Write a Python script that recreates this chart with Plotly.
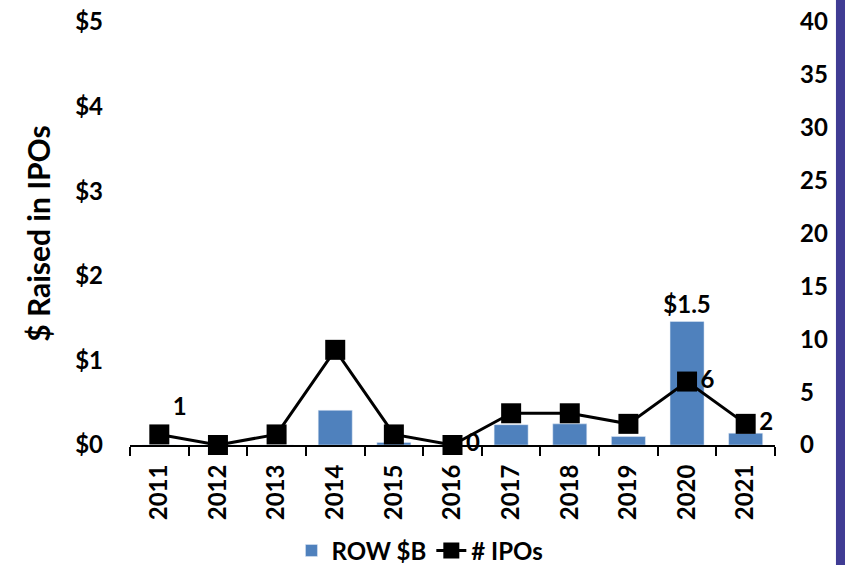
import plotly.graph_objects as go

years = ["2011", "2012", "2013", "2014", "2015", "2016", "2017", "2018", "2019", "2020", "2021"]
row_raised = [0.0, 0.0, 0.0, 0.41, 0.03, 0.0, 0.24, 0.25, 0.10, 1.46, 0.14]
num_ipos = [1, 0, 1, 9, 1, 0, 3, 3, 2, 6, 2]

bar_text = ["", "", "", "", "", "", "", "", "", "$1.5", ""]
ipo_text = ["1", "", "", "", "", "0", "", "", "", "6", "2"]
ipo_pos = ["top right", "middle right", "middle right", "middle right", "middle right",
           "middle right", "middle right", "middle right", "middle right", "middle right", "middle right"]

FONT = "Lato"
bold = dict(family=FONT, size=24, color="black", weight="bold")

fig = go.Figure()
fig.add_trace(go.Bar(
    x=years, y=row_raised, name="ROW $B",
    marker_color="#4F81BD", width=0.58,
    text=bar_text, textposition="outside", cliponaxis=False, constraintext="none",
    textfont=bold,
))
fig.add_trace(go.Scatter(
    x=years, y=num_ipos, name="# IPOs", yaxis="y2",
    mode="lines+markers+text",
    line=dict(color="black", width=3),
    marker=dict(symbol="square", size=20, color="black"),
    text=ipo_text, textposition=ipo_pos, cliponaxis=False,
    textfont=bold,
))

fig.update_layout(
    width=845, height=565,
    margin=dict(l=130, r=70, t=22, b=120),
    plot_bgcolor="white", paper_bgcolor="white",
    font=bold,
    showlegend=True,
    legend=dict(orientation="h", xref="container", yref="container",
                x=0.497, xanchor="center", y=0.025, yanchor="middle",
                font=bold, itemwidth=30, tracegroupgap=0),
    xaxis=dict(
        type="category", range=[-0.5, len(years) - 0.5],
        showline=True, linecolor="black", linewidth=2,
        ticks="outside", ticklen=9, tickcolor="black", tickwidth=2,
        tickson="boundaries", tickangle=-90, showgrid=False, automargin=False,
        ticklabelstandoff=8, tickfont=bold,
    ),
    yaxis=dict(
        range=[0, 5], dtick=1, tickprefix="$", showgrid=False, zeroline=False,
        showline=False, ticks="", tickfont=bold, automargin=False, ticklabelstandoff=26,
        title=dict(text="$ Raised in IPOs", font=dict(family=FONT, size=30, color="black", weight="bold"), standoff=15),
    ),
    yaxis2=dict(
        range=[0, 40], dtick=5, overlaying="y", side="right", showgrid=False,
        zeroline=False, showline=False, ticks="", automargin=False, ticklabelstandoff=24,
        tickfont=bold,
    ),
    shapes=[dict(type="rect", xref="paper", yref="paper", x0=1.0945, x1=1.12, y0=-0.3, y1=1.06,
                 fillcolor="#403C94", line_width=0, layer="above")],
)

# drop the page margin so the 845x565 figure fills the window exactly
page_fix = ("document.documentElement.style.overflow='hidden';"
            "document.body.style.margin='0';"
            "document.body.style.overflow='hidden';"
            "document.body.style.height='565px';")
fig.write_html("out.html", config={"displayModeBar": False}, post_script=page_fix)
